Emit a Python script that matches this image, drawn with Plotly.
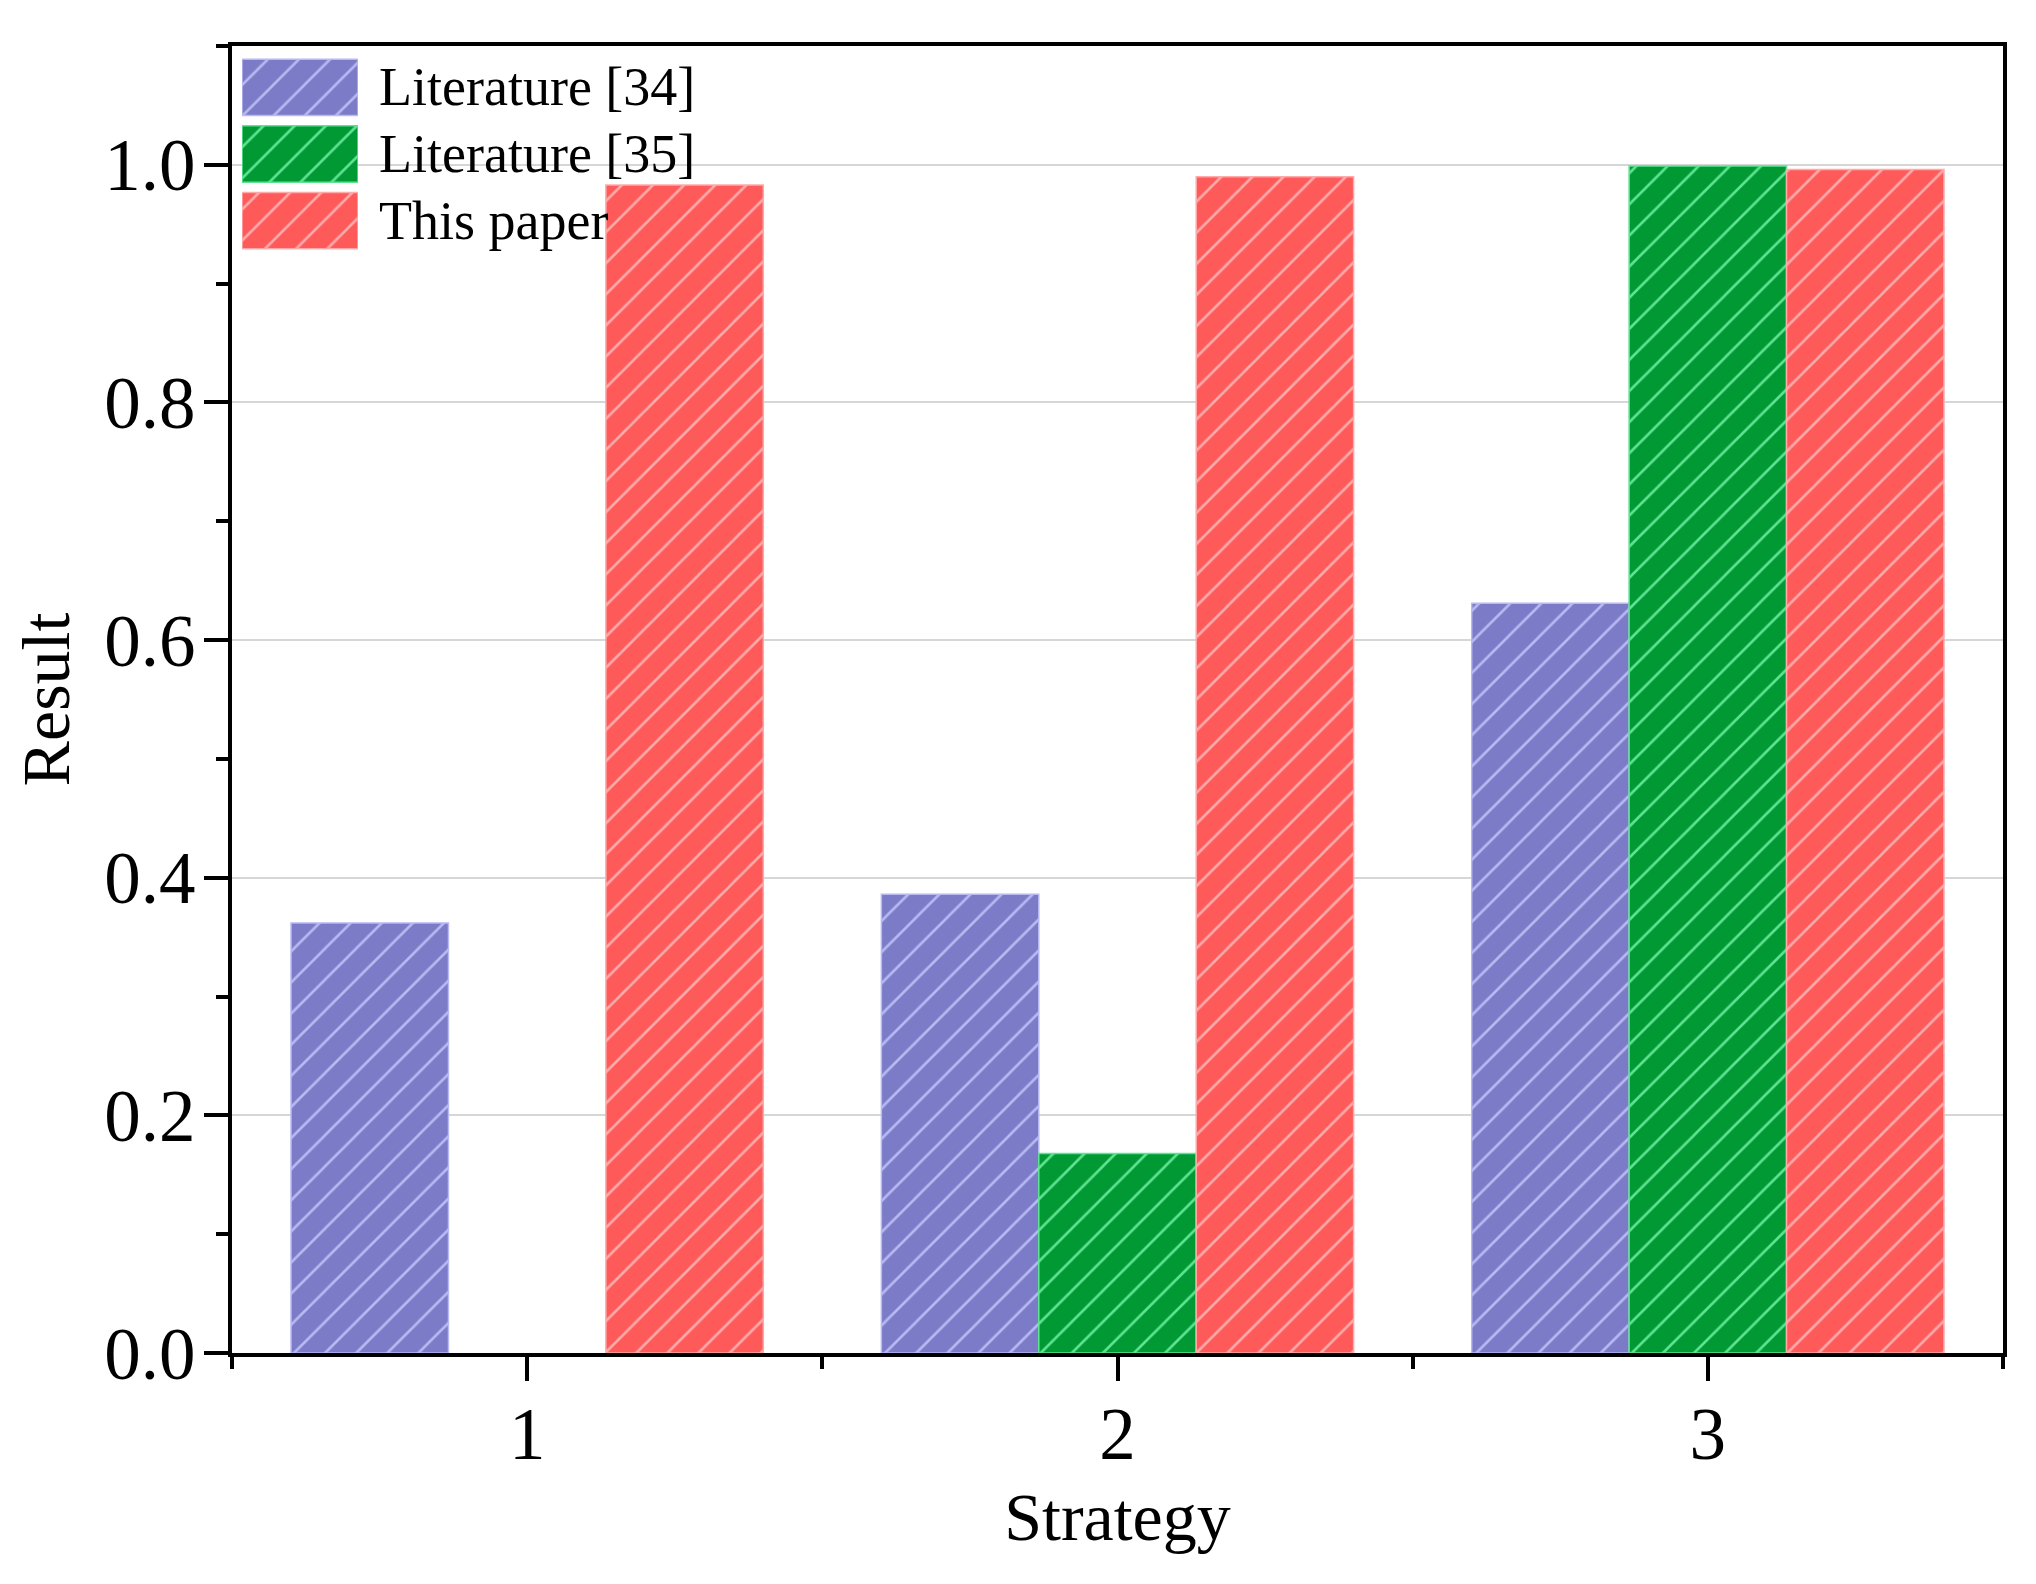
import plotly.graph_objects as go

# ---- data ----
strategies = [1, 2, 3]
series_names = ["Literature [34]", "Literature [35]", "This paper"]
lit34 = [0.362, 0.386, 0.631]
lit35 = [None, 0.168, 0.999]
this_paper = [0.983, 0.990, 0.996]
y_ticks = [0.0, 0.2, 0.4, 0.6, 0.8, 1.0]

series_values = [lit34, lit35, this_paper]
colors = ["#7b7bc8", "#009933", "#ff5a5a"]
line_colors = ["#b8b8f2", "#5fe393", "#ffaaaa"]

FONT = "Liberation Serif"

# figure sits at an 8px page margin inside the 2036x1584 window
W, H = 2020, 1568
L, T = 224, 38
R = W - (2003 - 8)
B = H - (1353 - 8)
PW, PH = W - L - R, H - T - B


def px_x(x):  # window px -> paper x
    return (x - 8 - L) / PW


def px_y(y):  # window px -> paper y
    return (H - B - (y - 8)) / PH


fig = go.Figure()

for name, vals, c, lc in zip(series_names, series_values, colors, line_colors):
    fig.add_trace(go.Bar(
        x=strategies, y=vals, name=name, showlegend=False,
        marker=dict(color=c,
                    line=dict(color=lc, width=1.5),
                    pattern=dict(shape="/", fillmode="replace", bgcolor=c,
                                 fgcolor=lc, size=22, solidity=0.12)),
        xaxis="x", yaxis="y",
    ))

# custom legend swatches (overlay axis)
for name, c, lc in zip(series_names, colors, line_colors):
    fig.add_trace(go.Bar(
        x=[1], y=[name], orientation="h", showlegend=False, hoverinfo="skip",
        marker=dict(color=c,
                    line=dict(color=lc, width=1.5),
                    pattern=dict(shape="/", fillmode="replace", bgcolor=c,
                                 fgcolor=lc, size=22, solidity=0.12)),
        width=0.845, xaxis="x2", yaxis="y2",
    ))

for name in series_names:
    fig.add_annotation(text=name, xref="paper", yref="y2", x=px_x(377), y=name,
                       xanchor="left", yanchor="middle", showarrow=False,
                       font=dict(family=FONT, size=54, color="black"))

axis_common = dict(
    showline=True, linecolor="black", linewidth=4, mirror=True,
    ticks="outside", tickcolor="black", tickwidth=4, ticklen=24,
    tickfont=dict(family=FONT, size=73, color="black"),
    zeroline=False,
)

fig.update_layout(
    width=W, height=H,
    margin=dict(l=L, r=R, t=T, b=B, autoexpand=False),
    paper_bgcolor="white", plot_bgcolor="white",
    barmode="group", bargap=0.2, bargroupgap=0,
    xaxis=dict(
        **axis_common,
        range=[0.5, 3.5], tickvals=strategies, ticktext=[str(s) for s in strategies],
        showgrid=False, ticklabelstandoff=-10,
        minor=dict(tickvals=[0.5, 1.5, 2.5, 3.5], ticklen=12, tickwidth=4,
                   tickcolor="black", ticks="outside", showgrid=False),
        title=dict(text="Strategy", font=dict(family=FONT, size=68, color="black"),
                   standoff=20),
    ),
    yaxis=dict(
        **axis_common,
        range=[0, 1.1], tickvals=y_ticks, ticktext=[f"{v:.1f}" for v in y_ticks],
        showgrid=True, gridcolor="#d6d6d6", gridwidth=2, ticklabelstandoff=-6,
        minor=dict(dtick=0.1, tick0=0.1, ticklen=12, tickwidth=4,
                   tickcolor="black", ticks="outside", showgrid=False),
        title=dict(text="Result", font=dict(family=FONT, size=68, color="black"),
                   standoff=20),
    ),
    xaxis2=dict(domain=[px_x(242), px_x(358)], range=[0, 1], visible=False,
                anchor="y2", fixedrange=True),
    yaxis2=dict(domain=[px_y(254), px_y(54)], autorange="reversed", visible=False,
                anchor="x2", type="category", fixedrange=True),
)

fig.write_html("out.html")
